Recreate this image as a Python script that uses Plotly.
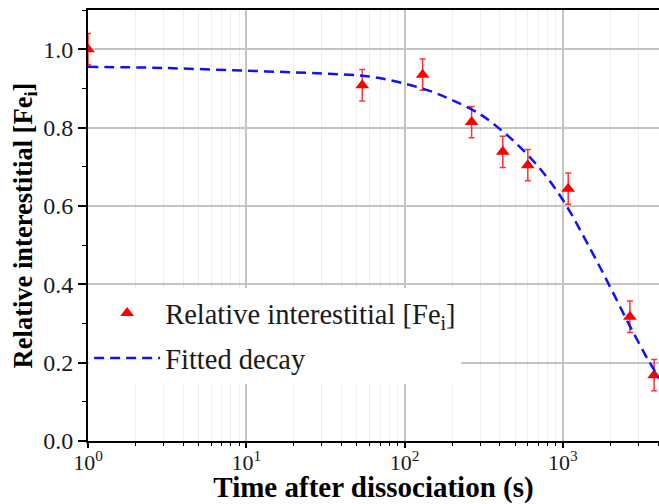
import plotly.graph_objects as go

# Measured interstitial iron fraction after dissociation
time_s = [1, 54, 130, 265, 417, 600, 1080, 2650, 3770]
rel_fe = [1.0, 0.908, 0.935, 0.814, 0.738, 0.704, 0.644, 0.317, 0.168]
rel_err = [0.04, 0.04, 0.04, 0.04, 0.04, 0.04, 0.04, 0.04, 0.04]

# Fitted decay curve
fit_t = [1, 3, 10, 30, 60, 100, 150, 200, 300, 400, 500, 700, 1000, 1500,
         2000, 2500, 3000, 3500, 4100]
fit_y = [0.955, 0.952, 0.945, 0.938, 0.930, 0.912, 0.891, 0.870, 0.834,
         0.796, 0.762, 0.700, 0.615, 0.488, 0.391, 0.313, 0.252, 0.203, 0.158]

x_tickvals = [1, 10, 100, 1000]
x_ticktext = ["10<sup>0</sup>", "10<sup>1</sup>", "10<sup>2</sup>", "10<sup>3</sup>"]

SERIF = "Liberation Serif, Times New Roman, serif"
TXT = "#1a1a1a"

fig = go.Figure()

fig.add_trace(go.Scatter(
    x=time_s, y=rel_fe, mode="markers",
    name="Relative interestitial [Fe<sub>i</sub>]",
    legendgroup="a",
    marker=dict(symbol="triangle-up", size=12, color="#ff0000"),
    error_y=dict(type="data", array=rel_err, visible=True,
                 color="#ff3333", thickness=1.5, width=3),
))

fig.add_trace(go.Scatter(
    x=fit_t, y=fit_y, mode="lines", name="Fitted decay",
    legendgroup="b",
    line=dict(color="#1010ff", width=2.5, dash="10px,6px", shape="spline"),
))

fig.update_layout(
    width=659, height=504,
    margin=dict(l=88, r=0, t=10, b=63),
    paper_bgcolor="white", plot_bgcolor="white",
    font=dict(family=SERIF, color=TXT, size=24),
    showlegend=True,
    legend=dict(
        x=0.002, y=0.355, xanchor="left", yanchor="top",
        bgcolor="white", borderwidth=0,
        font=dict(family=SERIF, size=28.5, color=TXT),
        itemwidth=66, traceorder="grouped", tracegroupgap=5,
    ),
    xaxis=dict(
        type="log", range=[0, 3.607],
        tickvals=x_tickvals, ticktext=x_ticktext,
        tickfont=dict(family=SERIF, size=22, color=TXT),
        ticks="outside", ticklen=5, tickwidth=1.5, tickcolor="#000",
        ticklabelstandoff=-4,
        showline=True, linecolor="#000", linewidth=2, mirror=True,
        showgrid=True, gridcolor="#c4c4c4", gridwidth=1.5,
        minor=dict(dtick="D1", ticks="outside", ticklen=3, tickwidth=1,
                   tickcolor="#000", showgrid=True, gridcolor="#efefef",
                   gridwidth=1),
        zeroline=False,
        title=dict(text="<b>Time after dissociation (s)</b>",
                   font=dict(family=SERIF, size=29, color="#000"),
                   standoff=9),
    ),
    yaxis=dict(
        range=[0, 1.1], tickvals=[0, 0.2, 0.4, 0.6, 0.8, 1.0],
        tickformat=".1f",
        tickfont=dict(family=SERIF, size=24, color=TXT),
        ticks="outside", ticklen=8, tickwidth=1.5, tickcolor="#000",
        showline=True, linecolor="#000", linewidth=2,
        showgrid=True, gridcolor="#c4c4c4", gridwidth=1.5,
        minor=dict(dtick=0.1, ticks="outside", ticklen=4, tickwidth=1,
                   tickcolor="#000", showgrid=False),
        zeroline=False,
        title=dict(text="<b>Relative interestitial [Fe<sub>i</sub>]</b>",
                   font=dict(family=SERIF, size=26.5, color="#000"),
                   standoff=3),
    ),
)

fig.write_html("out.html")
